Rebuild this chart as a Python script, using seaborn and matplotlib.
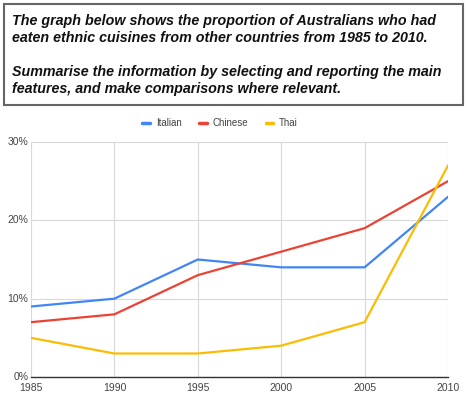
import matplotlib
matplotlib.use("Agg")
import matplotlib.pyplot as plt
import seaborn as sns
import pandas as pd
from matplotlib.patches import Rectangle
from matplotlib.ticker import FuncFormatter
from matplotlib.lines import Line2D

years = [1985, 1990, 1995, 2000, 2005, 2010]
italian = [9, 10, 15, 14, 14, 23]
chinese = [7, 8, 13, 16, 19, 25]
thai = [5, 3, 3, 4, 7, 27]
series_names = ["Italian", "Chinese", "Thai"]
colors = ["#4285F4", "#EA4335", "#FBBC04"]
yticks = [0, 10, 20, 30]
title_lines = [
    "The graph below shows the proportion of Australians who had",
    "eaten ethnic cuisines from other countries from 1985 to 2010.",
    "",
    "Summarise the information by selecting and reporting the main",
    "features, and make comparisons where relevant.",
]

df = pd.DataFrame({"Year": years, "Italian": italian, "Chinese": chinese, "Thai": thai})
long = df.melt(id_vars="Year", var_name="Cuisine", value_name="Pct")

sns.set_theme(style="white")
plt.rcParams["font.family"] = ["Liberation Sans", "DejaVu Sans"]

W, H = 468, 397
fig = plt.figure(figsize=(W / 100, H / 100), dpi=100)

# Task box
box = Rectangle((4 / W, 1 - 105 / H), (463 - 4) / W, (105 - 4) / H,
                transform=fig.transFigure, fill=False, edgecolor="#666666", linewidth=1.5)
fig.patches.append(box)
ys = [21, 37.5, 54, 72, 88.5]
for line, y in zip(title_lines, ys):
    if line:
        fig.text(12 / W, 1 - y / H, line, fontsize=10.3, fontweight="bold", fontstyle="italic",
                 color="#111111", va="center", ha="left")

# Chart axes
left, right, top, bottom = 31, 448, 142, 377
ax = fig.add_axes([left / W, 1 - bottom / H, (right - left) / W, (bottom - top) / H])
sns.lineplot(data=long, x="Year", y="Pct", hue="Cuisine", hue_order=series_names,
             palette=colors, linewidth=1.6, ax=ax, legend=False)
ax.set_xlim(years[0], years[-1])
ax.set_ylim(0, 30)
ax.set_xticks(years)
ax.set_yticks(yticks)
ax.yaxis.set_major_formatter(FuncFormatter(lambda v, p: f"{int(v)}%"))
ax.grid(True, color="#d9d9d9", linewidth=0.8)
ax.set_axisbelow(True)
for s in ["top", "right", "left"]:
    ax.spines[s].set_visible(False)
ax.spines["bottom"].set_color("#333333")
ax.spines["bottom"].set_linewidth(1.0)
ax.set_xlabel("")
ax.set_ylabel("")
ax.tick_params(axis="both", length=0, labelsize=7.5, colors="#444444")
ax.tick_params(axis="x", pad=4)
ax.tick_params(axis="y", pad=2)
for lbl in ax.get_yticklabels():
    lbl.set_verticalalignment("center")

# Legend
handles = [Line2D([0], [0], color=c, linewidth=2.5) for c in colors]
fig.legend(handles, series_names, loc="center", bbox_to_anchor=(220 / W, 1 - 123 / H),
           ncol=3, frameon=False, fontsize=7, handlelength=0.8, handletextpad=0.6,
           columnspacing=1.8, labelcolor="#444444")

fig.savefig("out.png", dpi=100)
